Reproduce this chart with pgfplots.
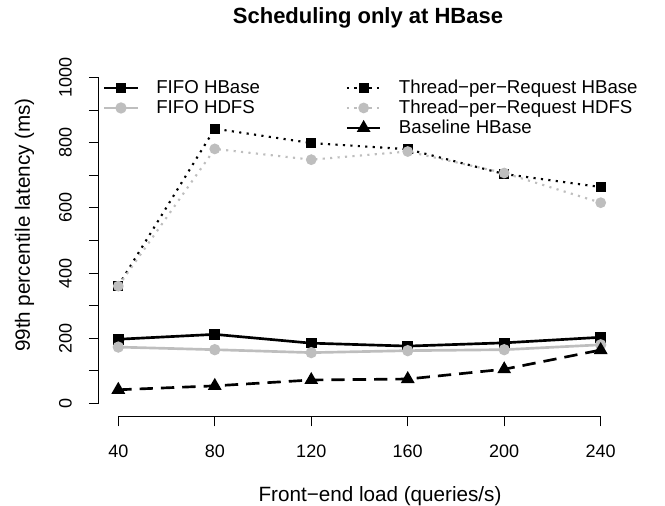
\documentclass[border=0pt]{standalone}
\usepackage{pgfplots}
\pgfplotsset{compat=1.18}
\usepackage{fontspec}
\setmainfont{Liberation Sans}
\definecolor{rgray}{RGB}{190,190,190}
\begin{document}
\begin{tikzpicture}
\useasboundingbox (-74.25pt,-67.125pt) rectangle (424.5pt,312.375pt);
\begin{axis}[
  at={(0pt,0pt)}, anchor=south west,
  scale only axis, width=390.75pt, height=264pt,
  xmin=32, xmax=248, ymin=-40, ymax=1040,
  clip=false,
  axis line style={draw=none},
  xtick pos=bottom, ytick pos=left,
  tick align=outside,
  major tick length=7.5pt,
  tick style={black, line width=0.75pt},
  xtick={40,80,...,240},
  ytick={0,100,...,1000},
  yticklabels={0,,200,,400,,600,,800,,1000},
  /pgf/number format/assume math mode=true,
  ticklabel style={font=\fontsize{13.5}{15}\selectfont, inner sep=0pt},
  xticklabel style={anchor=north},
  xticklabel shift=14pt,
  yticklabel style={rotate=90, anchor=south},
  yticklabel shift=12.75pt,
  legend style={at={(axis description cs:0,1)}, anchor=north west,
    xshift=3pt, yshift=-11.6pt, draw=none, fill=none, inner sep=0pt, outer sep=0pt,
    column sep=13pt, row sep=3pt,
    font=\fontsize{14}{16}\selectfont,
    nodes={inner sep=0pt, text height=10pt, text depth=2pt}},
  legend columns=2,
  legend cell align=left,
  legend image code/.code={\draw[mark repeat=2,mark phase=2,#1] plot coordinates {(0pt,0pt) (12.5pt,0pt) (25pt,0pt)};},
]
% FIFO HBase
\addplot[black, line width=2pt, mark=square*, mark size=3pt, mark options={solid}]
  coordinates {(40,197) (80,212) (120,185) (160,176) (200,186) (240,203)};
\addlegendentry{\makebox[129pt][l]{FIFO HBase}}
% Thread-per-Request HBase
\addplot[black, line width=1.6pt, dash pattern=on 1.6pt off 4pt, mark=square*, mark size=3pt, mark options={solid}]
  coordinates {(40,361) (80,843) (120,799) (160,780) (200,704) (240,664)};
\addlegendentry{Thread−per−Request HBase}
% FIFO HDFS
\addplot[rgray, line width=2pt, mark=*, mark size=3.2pt, mark options={solid}]
  coordinates {(40,173) (80,165) (120,156) (160,162) (200,165) (240,180)};
\addlegendentry{\makebox[129pt][l]{FIFO HDFS}}
% Thread-per-Request HDFS
\addplot[rgray, line width=1.6pt, dash pattern=on 1.6pt off 4pt, mark=*, mark size=3.2pt, mark options={solid}]
  coordinates {(40,360) (80,781) (120,748) (160,773) (200,707) (240,616)};
\addlegendentry{Thread−per−Request HDFS}
\addlegendimage{empty legend}
\addlegendentry{}
% Baseline HBase
\addplot[black, line width=2pt, dash pattern=on 10pt off 6pt, mark=triangle*, mark size=4pt, mark options={solid}]
  coordinates {(40,42) (80,54) (120,72) (160,75) (200,105) (240,164)};
\addlegendentry{Baseline HBase}
% axis lines (R style)
\draw[black, line width=0.75pt] (axis cs:40,-40) -- (axis cs:240,-40);
\draw[black, line width=0.75pt] (axis cs:32,0) -- (axis cs:32,1000);
\end{axis}
\node[font=\bfseries\fontsize{16.5}{18}\selectfont] at (201.75pt,298.9pt) {Scheduling only at HBase};
\node[font=\fontsize{15.5}{17}\selectfont, anchor=base] at (210.75pt,-63.4pt) {Front−end load (queries/s)};
\node[font=\fontsize{15.5}{17}\selectfont, anchor=base, rotate=90] at (-51.75pt,143.6pt) {99th percentile latency (ms)};
\end{tikzpicture}
\end{document}
